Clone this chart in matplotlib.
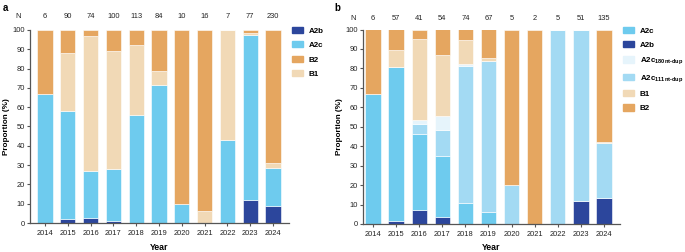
import numpy as np
import matplotlib
matplotlib.use('Agg')
import matplotlib.pyplot as plt
from matplotlib.patches import Patch

plt.rcParams['font.family'] = ['Liberation Sans', 'DejaVu Sans']
plt.rcParams['mathtext.default'] = 'regular'

years = np.arange(2014, 2025)

# panel a
n_a = [6, 90, 74, 100, 113, 84, 10, 16, 7, 77, 230]
a_A2b = [0, 2.0, 2.7, 1.0, 0, 0, 0, 0, 0, 11.7, 8.7]
a_A2c = [66.7, 56.0, 24.3, 27.0, 56.0, 71.5, 10.0, 0, 42.9, 85.7, 20.0]
a_B1 = [0, 30.0, 70.0, 61.0, 36.0, 7.1, 0, 6.25, 57.1, 1.3, 2.6]
a_B2 = [33.3, 12.0, 3.0, 11.0, 8.0, 21.4, 90.0, 93.75, 0, 1.3, 68.7]

# panel b
n_b = [6, 57, 41, 54, 74, 67, 5, 2, 5, 51, 135]
b_A2b = [0, 1.75, 7.3, 3.7, 0, 0, 0, 0, 0, 11.8, 13.3]
b_A2c = [66.7, 79.0, 39.0, 31.5, 10.8, 6.0, 0, 0, 0, 0, 0]
b_111 = [0, 0, 4.9, 13.0, 70.3, 77.6, 20.0, 0, 100, 88.2, 28.1]
b_180 = [0, 0, 2.4, 7.4, 1.35, 0, 0, 0, 0, 0, 0]
b_B1 = [0, 8.8, 41.5, 31.5, 12.2, 1.5, 0, 0, 0, 0, 0.7]
b_B2 = [33.3, 10.5, 4.9, 13.0, 5.4, 14.9, 80.0, 100, 0, 0, 57.8]

c_A2b = '#2C469C'
c_A2c = '#6ECBEE'
c_B2 = '#E5A660'
c_B1 = '#F1D9B6'
c_111 = '#A3DAF3'
c_180 = '#E6F4FB'

W, H = 685, 252
fig = plt.figure(figsize=(W / 100, H / 100), dpi=100)
fs = 5.4


def style_axes(ax, xl, xr, nvals, nx, ny):
    ax.set_xlim(xl, xr)
    ax.set_ylim(0, 100)
    ax.set_yticks(range(0, 101, 10))
    ax.set_xticks(years)
    ax.set_xticklabels([str(y) for y in years], fontsize=fs, color='#222222')
    ax.tick_params(axis='y', labelsize=fs, colors='#222222', length=2.5, width=0.8, pad=1)
    ax.tick_params(axis='x', length=2.5, width=0.8, pad=2.5)
    for s in ['top', 'right']:
        ax.spines[s].set_visible(False)
    for s in ['left', 'bottom']:
        ax.spines[s].set_color('#555555')
        ax.spines[s].set_linewidth(0.9)
    ax.tick_params(color='#555555')
    ax.set_xlabel('Year', fontsize=6.3, fontweight='bold', labelpad=4)
    ax.set_ylabel('Proportion (%)', fontsize=5.9, fontweight='bold', labelpad=2)
    for y, n in zip(years, nvals):
        ax.text(y, ny, str(n), ha='center', va='center', fontsize=fs,
                color='#222222', clip_on=False)
    ax.text(nx, ny, 'N', ha='center', va='center', fontsize=fs,
            color='#222222', clip_on=False)


leg_kw = dict(loc='upper left', frameon=False, prop={'size': 5.8, 'weight': 'bold'},
              handlelength=1.4, handleheight=0.8, handletextpad=0.7,
              labelspacing=0.8, borderaxespad=0, borderpad=0)

# ---- panel a
axa = fig.add_axes([30 / W, (H - 223) / H, (289 - 30) / W, (223 - 30) / H])
bw = 0.67
bottom = np.zeros(len(years))
for vals, col in [(a_A2b, c_A2b), (a_A2c, c_A2c), (a_B1, c_B1), (a_B2, c_B2)]:
    axa.bar(years, vals, bw, bottom=bottom, color=col, edgecolor='white', linewidth=0.4)
    bottom += np.array(vals)
style_axes(axa, 2014 - 0.66, 2024 + 0.7, n_a, 2014 - 1.18, 106.8)
leg_a = [Patch(color=c_A2b, label='A2b'), Patch(color=c_A2c, label='A2c'),
         Patch(color=c_B2, label='B2'), Patch(color=c_B1, label='B1')]
axa.legend(handles=leg_a, bbox_to_anchor=(292 / W, 1 - 27 / H),
           bbox_transform=fig.transFigure, **leg_kw)
fig.text(3 / W, 1 - 8 / H, 'a', fontsize=7, fontweight='bold', va='center')

# ---- panel b
axb = fig.add_axes([363 / W, (H - 224) / H, (620 - 363) / W, (224 - 29.5) / H])
bw = 0.66
bottom = np.zeros(len(years))
for vals, col in [(b_A2b, c_A2b), (b_A2c, c_A2c), (b_111, c_111), (b_180, c_180),
                  (b_B1, c_B1), (b_B2, c_B2)]:
    axb.bar(years, vals, bw, bottom=bottom, color=col, edgecolor='white', linewidth=0.4)
    bottom += np.array(vals)
style_axes(axb, 2014 - 0.43, 2024 + 0.69, n_b, 2014 - 0.87, 105.4)
leg_b = [Patch(color=c_A2c, label='A2c'), Patch(color=c_A2b, label='A2b'),
         Patch(color=c_180, label='A2c$_{180nt‐dup}$'),
         Patch(color=c_111, label='A2c$_{111nt‐dup}$'),
         Patch(color=c_B1, label='B1'), Patch(color=c_B2, label='B2')]
axb.legend(handles=leg_b, bbox_to_anchor=(623 / W, 1 - 27 / H),
           bbox_transform=fig.transFigure, **leg_kw)
fig.text(334 / W, 1 - 8 / H, 'b', fontsize=7, fontweight='bold', va='center')

fig.savefig('out.png', dpi=100)
